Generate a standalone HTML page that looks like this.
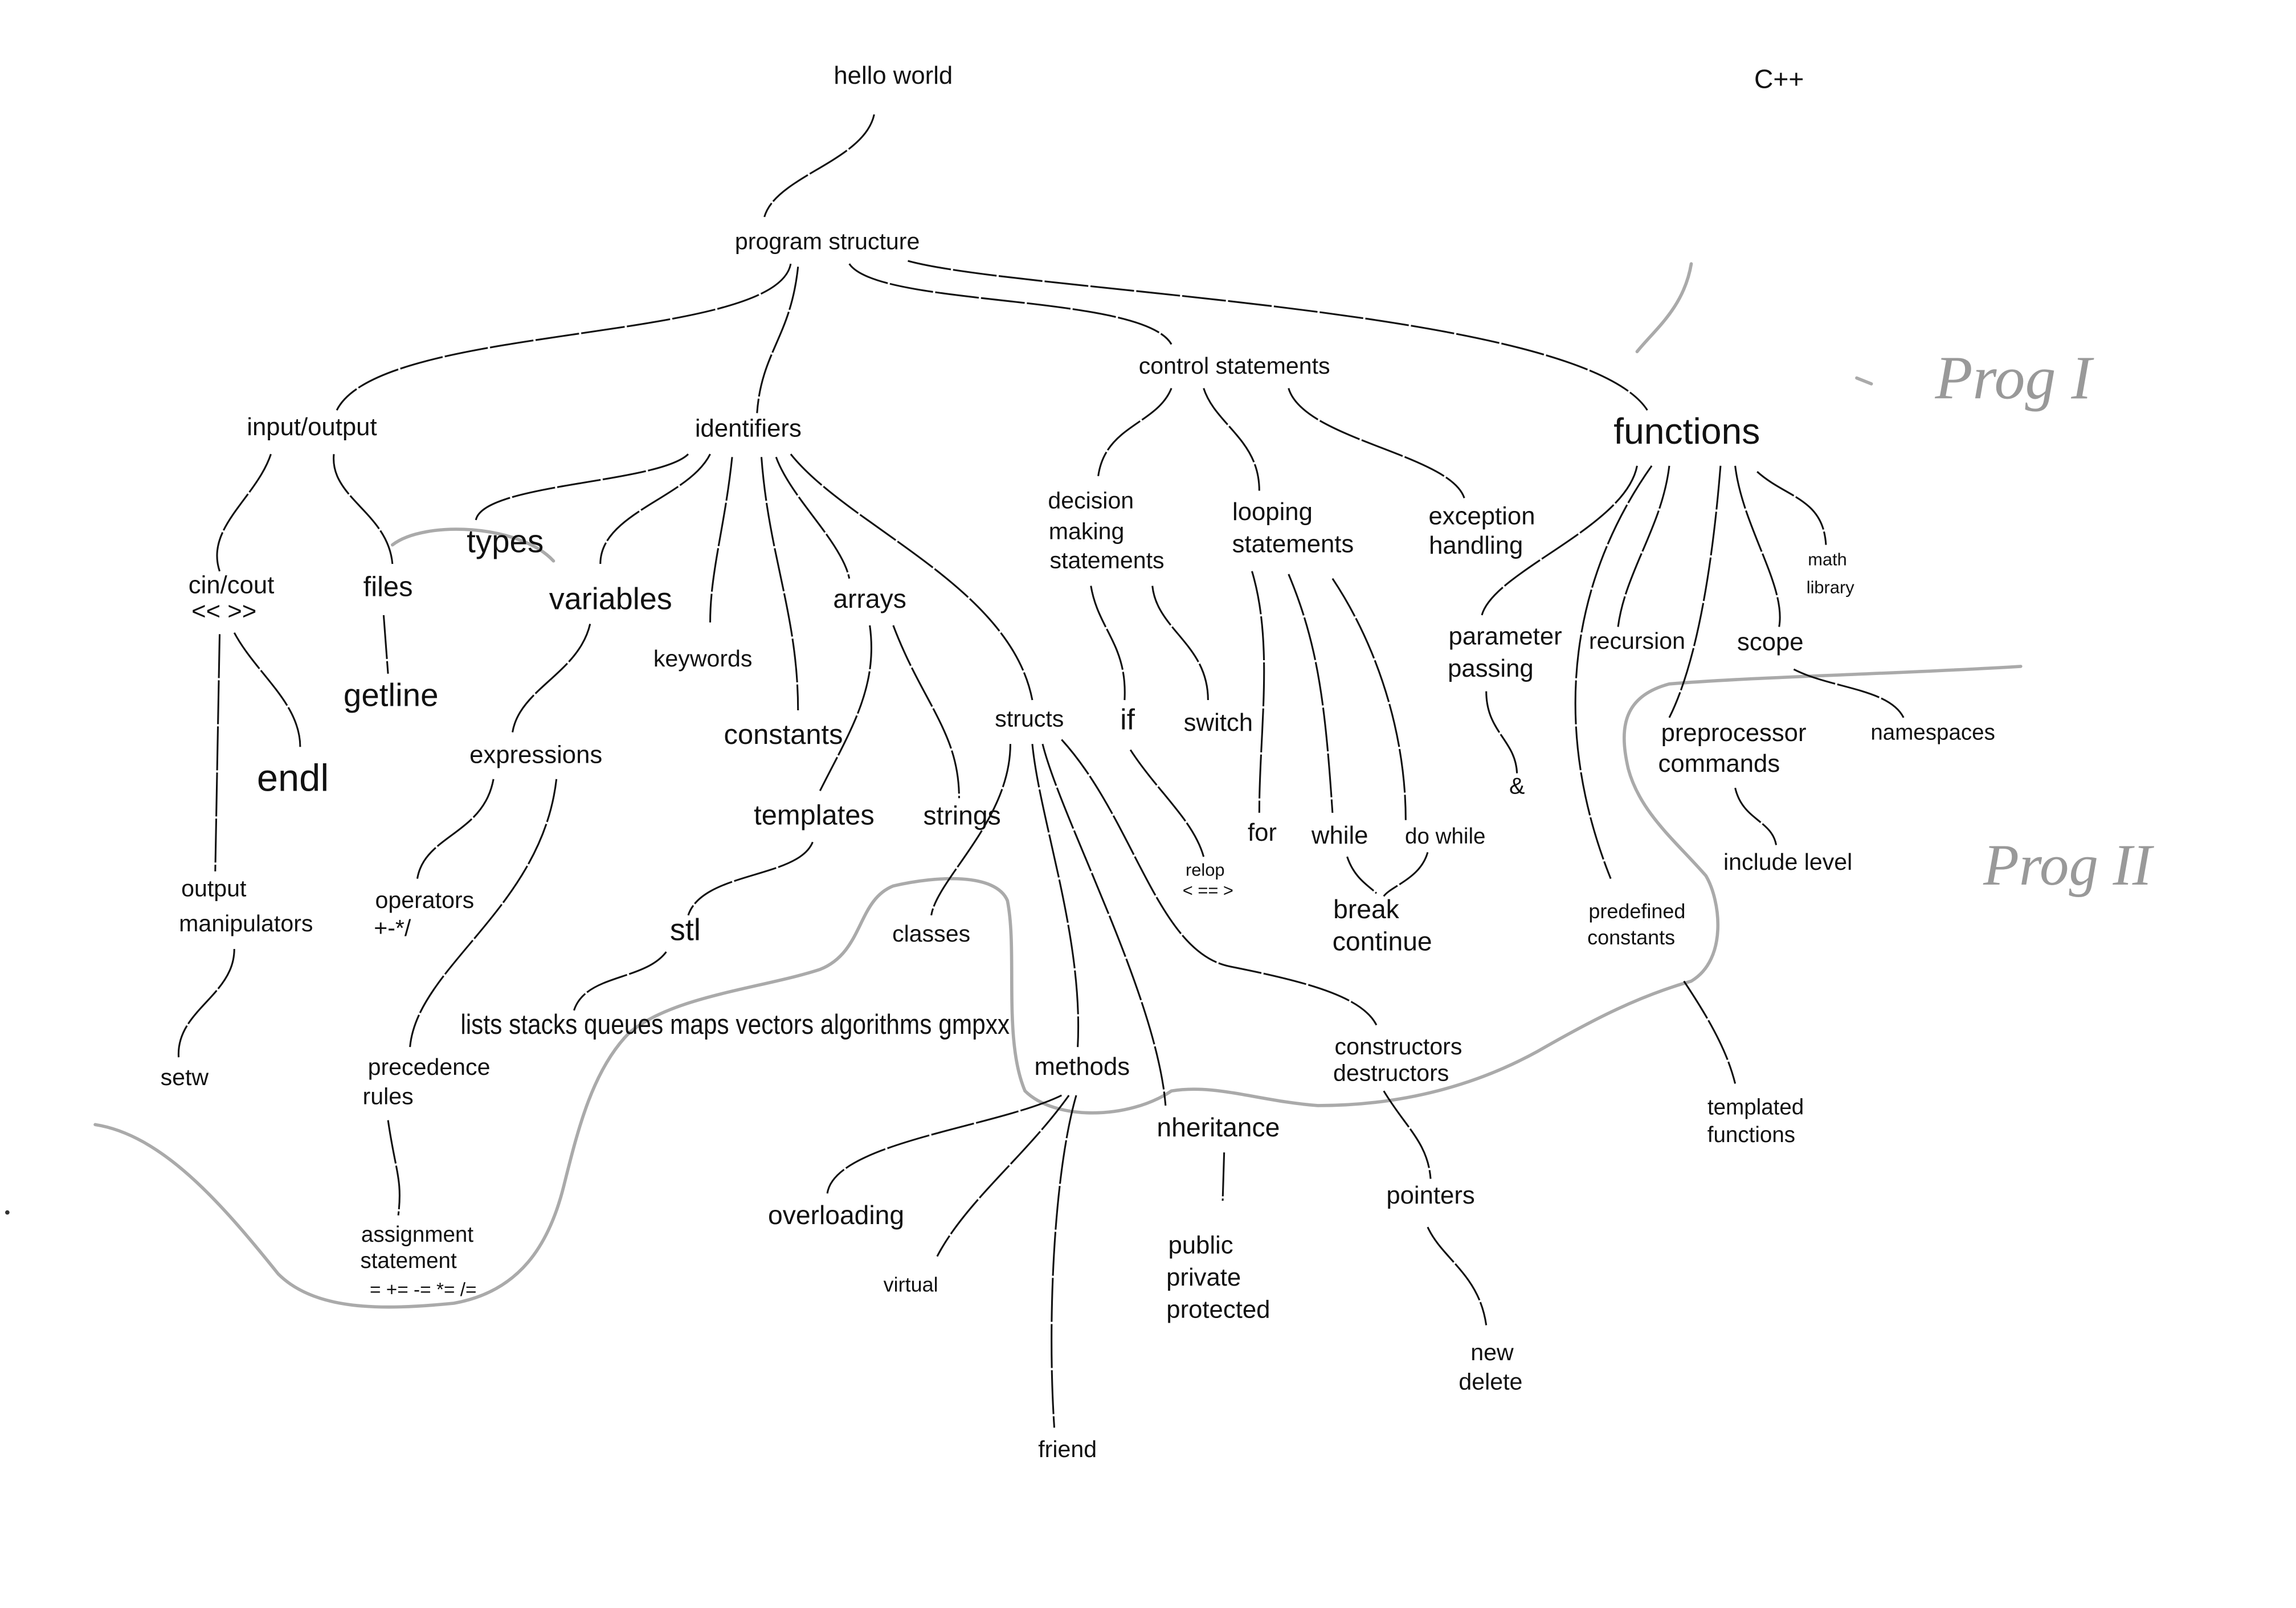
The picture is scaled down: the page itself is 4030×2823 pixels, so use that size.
<!DOCTYPE html>
<html><head><meta charset="utf-8"><style>
html,body{margin:0;padding:0;background:#fff}
svg{display:block}
text{font-family:"Liberation Sans",sans-serif;fill:#111;text-anchor:middle}
</style></head><body>
<svg width="4030" height="2823" viewBox="0 0 1568 1098" xmlns="http://www.w3.org/2000/svg">
<rect width="1568" height="1098" fill="#fff"/>
<g fill="none" stroke="#aaa" stroke-width="2.2" stroke-linecap="round">
<path d="M65,768 C110,775 150,820 190,870 C215,895 260,895 310,890 C355,882 375,850 385,810 C395,770 405,730 430,705 C460,680 520,675 560,662 C590,650 585,615 610,605 C640,598 680,596 688,615 C695,650 685,710 700,745 C720,765 770,765 800,745 C830,740 860,752 900,755 C960,755 1010,740 1050,718 C1090,695 1120,680 1155,670 C1180,655 1175,615 1165,598 C1145,575 1120,555 1112,525 C1105,495 1110,475 1140,467 C1200,462 1300,460 1380,455"/>
<path d="M1155,180 C1150,210 1130,225 1118,240"/>
<path d="M268,372 C290,355 355,358 378,383"/>
<path d="M1268,258 L1278,262"/>
</g>
<g fill="none" stroke="#111" stroke-width="1.2" stroke-dasharray="30 1.5">
<path d="M597,78 C590,110 530,120 522,148"/>
<path d="M540,180 C530,235 260,220 230,280"/>
<path d="M545,182 C540,230 520,240 517,282"/>
<path d="M580,180 C600,210 780,200 800,235"/>
<path d="M620,178 C700,200 1080,210 1125,280"/>
<path d="M185,310 C175,340 140,360 150,390"/>
<path d="M228,310 C225,340 265,350 268,385"/>
<path d="M470,310 C450,330 330,330 325,355"/>
<path d="M485,310 C470,340 410,350 410,385"/>
<path d="M500,312 C495,360 485,390 485,425"/>
<path d="M520,312 C525,380 545,420 545,485"/>
<path d="M530,312 C540,340 575,370 580,395"/>
<path d="M540,310 C580,360 690,400 705,478"/>
<path d="M160,432 C175,460 205,480 205,510"/>
<path d="M150,433 L147,595"/>
<path d="M262,420 L265,460"/>
<path d="M403,426 C395,460 355,470 350,500"/>
<path d="M337,532 C330,570 290,570 285,600"/>
<path d="M380,532 C370,620 285,660 280,715"/>
<path d="M160,648 C160,680 120,690 122,722"/>
<path d="M265,765 C270,800 275,805 272,830"/>
<path d="M594,427 C600,470 580,500 560,540"/>
<path d="M610,427 C630,480 655,500 655,545"/>
<path d="M555,575 C545,600 480,595 470,625"/>
<path d="M455,650 C440,670 400,665 392,690"/>
<path d="M690,508 C690,560 640,600 636,625"/>
<path d="M705,508 C710,560 740,640 736,715"/>
<path d="M712,508 C725,560 790,680 796,755"/>
<path d="M725,505 C775,560 790,650 840,660 C890,670 930,680 940,700"/>
<path d="M725,748 C680,770 570,780 565,815"/>
<path d="M730,748 C700,790 660,820 640,858"/>
<path d="M735,748 C720,800 715,900 720,975"/>
<path d="M836,787 L835,820"/>
<path d="M945,745 C960,770 975,780 977,805"/>
<path d="M975,838 C985,860 1010,870 1015,905"/>
<path d="M800,265 C790,290 755,290 750,325"/>
<path d="M822,265 C830,290 860,300 860,335"/>
<path d="M880,265 C890,300 990,310 1000,340"/>
<path d="M745,400 C750,430 770,440 768,478"/>
<path d="M787,400 C790,430 825,440 825,478"/>
<path d="M772,512 C790,540 815,560 822,585"/>
<path d="M855,390 C870,440 860,500 860,555"/>
<path d="M880,392 C900,440 905,480 910,555"/>
<path d="M910,395 C940,440 960,500 960,560"/>
<path d="M920,585 C925,600 935,605 940,610"/>
<path d="M975,582 C970,600 950,605 945,612"/>
<path d="M1118,318 C1110,360 1020,390 1012,420"/>
<path d="M1128,318 C1070,400 1060,500 1100,600"/>
<path d="M1140,318 C1135,360 1110,390 1105,428"/>
<path d="M1175,318 C1170,380 1160,450 1140,490"/>
<path d="M1185,318 C1190,360 1220,400 1215,428"/>
<path d="M1200,322 C1220,340 1245,340 1247,372"/>
<path d="M1225,457 C1250,470 1290,470 1300,490"/>
<path d="M1015,472 C1015,500 1035,505 1036,528"/>
<path d="M1185,538 C1190,560 1210,560 1213,577"/>
<path d="M1150,670 C1170,700 1180,720 1185,740"/>
</g>
<g font-size="16">
<text x="610" y="57" font-size="17">hello world</text>
<text x="1215" y="60" font-size="18">C++</text>
<text x="565" y="170">program structure</text>
<text x="213" y="297" font-size="17">input/output</text>
<text x="511" y="298" font-size="17">identifiers</text>
<text x="843" y="255">control statements</text>
<text x="1152" y="303" font-size="25">functions</text>
<text x="158" y="405" font-size="17">cin/cout</text>
<text x="153" y="423" font-size="17">&lt;&lt;  &gt;&gt;</text>
<text x="265" y="407" font-size="19">files</text>
<text x="345" y="377" font-size="22">types</text>
<text x="417" y="416" font-size="21">variables</text>
<text x="480" y="455">keywords</text>
<text x="594" y="415" font-size="18">arrays</text>
<text x="267" y="482" font-size="22">getline</text>
<text x="200" y="540" font-size="26">endl</text>
<text x="366" y="521" font-size="17">expressions</text>
<text x="535" y="508" font-size="19">constants</text>
<text x="556" y="563" font-size="19">templates</text>
<text x="657" y="563" font-size="18">strings</text>
<text x="703" y="496">structs</text>
<text x="770" y="498" font-size="20">if</text>
<text x="832" y="499" font-size="17">switch</text>
<text x="745" y="347">decision</text>
<text x="742" y="368">making</text>
<text x="756" y="388">statements</text>
<text x="869" y="355" font-size="17">looping</text>
<text x="883" y="377" font-size="17">statements</text>
<text x="1012" y="358" font-size="17">exception</text>
<text x="1008" y="378" font-size="17">handling</text>
<text x="1028" y="440" font-size="17">parameter</text>
<text x="1018" y="462" font-size="17">passing</text>
<text x="1118" y="443">recursion</text>
<text x="1209" y="444" font-size="17">scope</text>
<text x="1248" y="386" font-size="12">math</text>
<text x="1250" y="405" font-size="12">library</text>
<text x="1184" y="506" font-size="17">preprocessor</text>
<text x="1174" y="527" font-size="17">commands</text>
<text x="1320" y="505" font-size="15">namespaces</text>
<text x="1036" y="542">&amp;</text>
<text x="1221" y="594">include level</text>
<text x="862" y="574" font-size="17">for</text>
<text x="915" y="576" font-size="17">while</text>
<text x="987" y="576" font-size="15">do while</text>
<text x="823" y="598" font-size="12">relop</text>
<text x="825" y="612" font-size="12">&lt; == &gt;</text>
<text x="933" y="627" font-size="18">break</text>
<text x="944" y="649" font-size="18">continue</text>
<text x="1118" y="627" font-size="14">predefined</text>
<text x="1114" y="645" font-size="14">constants</text>
<text x="146" y="612">output</text>
<text x="168" y="636">manipulators</text>
<text x="290" y="620">operators</text>
<text x="268" y="639">+-*/</text>
<text x="468" y="642" font-size="21">stl</text>
<text x="636" y="643">classes</text>
<text x="502" y="706" font-size="19" textLength="375" lengthAdjust="spacingAndGlyphs">lists stacks queues maps vectors algorithms gmpxx</text>
<text x="126" y="741">setw</text>
<text x="293" y="734">precedence</text>
<text x="265" y="754">rules</text>
<text x="739" y="734" font-size="17">methods</text>
<text x="955" y="720">constructors</text>
<text x="950" y="738">destructors</text>
<text x="832" y="776" font-size="18">nheritance</text>
<text x="1199" y="761" font-size="15">templated</text>
<text x="1196" y="780" font-size="15">functions</text>
<text x="977" y="822" font-size="17">pointers</text>
<text x="571" y="836" font-size="18">overloading</text>
<text x="285" y="848" font-size="15">assignment</text>
<text x="279" y="866" font-size="15">statement</text>
<text x="289" y="885" font-size="13">= += -= *= /=</text>
<text x="622" y="882" font-size="14">virtual</text>
<text x="820" y="856" font-size="17">public</text>
<text x="822" y="878" font-size="17">private</text>
<text x="832" y="900" font-size="17">protected</text>
<text x="1019" y="929">new</text>
<text x="1018" y="949">delete</text>
<text x="729" y="995">friend</text>
</g>
<text x="1375" y="272" font-size="42" style="fill:#999;font-family:'Liberation Serif',serif;font-style:italic">Prog I</text>
<text x="1412" y="604" font-size="40" style="fill:#999;font-family:'Liberation Serif',serif;font-style:italic">Prog II</text>
<circle cx="5" cy="828" r="1.5" fill="#333"/>
</svg>
</body></html>
